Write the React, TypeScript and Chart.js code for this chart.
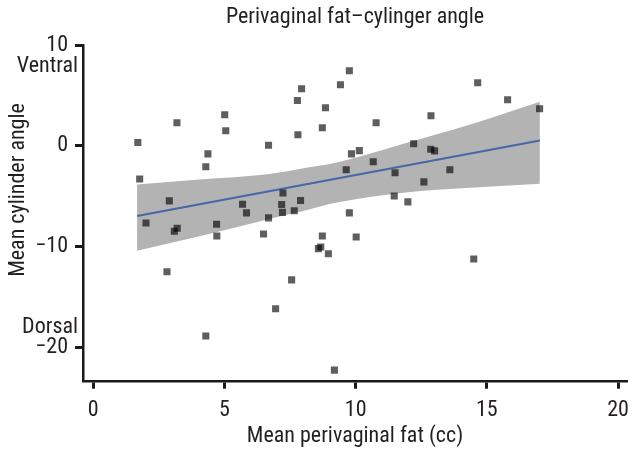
import React, { useEffect, useRef } from 'react';
import { Chart, registerables } from 'chart.js';

Chart.register(...registerables);

// ---- text ----
const chartTitle = 'Perivaginal fat–cylinger angle';
const xAxisTitle = 'Mean perivaginal fat (cc)';
const yAxisTitle = 'Mean cylinder angle';
const yTopNote = 'Ventral';
const yBottomNote = 'Dorsal';

// ---- ticks ----
const xTicks = [0, 5, 10, 15, 20];
const yTicks = [-20, -10, 0, 10];

// ---- scatter data ----
const fatCc = [1.70, 1.77, 2.01, 3.19, 2.90, 2.81, 3.09, 3.20, 4.29, 4.37, 4.29, 4.70, 4.71, 5.01, 5.05, 5.69, 5.84, 6.49, 6.68, 6.68, 6.95, 7.23, 7.18, 7.21, 7.56, 7.66, 7.78, 7.80, 7.90, 7.94, 8.58, 8.67, 8.73, 8.96, 9.19, 9.76, 9.42, 8.85, 8.73, 10.78, 14.65, 15.79, 17.01, 12.87, 12.21, 12.86, 13.01, 10.14, 9.84, 10.67, 9.64, 11.50, 13.59, 12.60, 11.47, 11.99, 9.76, 10.02, 14.50];
const cylAngle = [0.33, -3.30, -7.65, 2.28, -5.46, -12.5, -8.48, -8.18, -2.08, -0.80, -18.87, -7.78, -8.94, 3.08, 1.49, -5.80, -6.65, -8.74, 0.05, -7.15, -16.16, -4.68, -5.82, -6.60, -13.30, -6.45, 4.50, 1.09, -5.43, 5.66, -10.20, -10.03, -8.94, -10.70, -22.25, 7.45, 6.06, 3.77, 1.79, 2.28, 6.26, 4.57, 3.67, 2.98, 0.20, -0.34, -0.50, -0.48, -0.80, -1.59, -2.38, -2.68, -2.38, -3.58, -4.98, -5.56, -6.65, -9.04, -11.22];

// ---- regression line ----
const fitX = [1.67, 17.02];
const fitY = [-6.97, 0.53];

// ---- confidence band ----
const bandX = [1.67, 4.05, 6.71, 7.97, 9.24, 11.83, 14.37, 17.02];
const bandUpper = [-3.84, -3.35, -2.80, -2.25, -1.69, 0.20, 2.12, 4.37];
const bandLower = [-10.40, -8.98, -7.25, -6.49, -5.66, -4.65, -4.17, -3.77];

const FONT = "'Liberation Sans Narrow', 'Arial Narrow', 'Roboto Condensed', sans-serif";
const TEXT = '#231f20';
const AXIS = '#1a1a1a';
const FS = 22;

const notesPlugin = {
  id: 'notes',
  afterDraw(chart: any) {
    const { ctx, chartArea, scales } = chart;
    ctx.save();
    ctx.fillStyle = TEXT;
    ctx.font = `${FS}px ${FONT}`;
    ctx.textBaseline = 'middle';
    ctx.textAlign = 'center';
    ctx.fillText(chartTitle, (chartArea.left + chartArea.right) / 2, 17);
    ctx.textAlign = 'right';
    ctx.fillText(yTopNote, chartArea.left - 5, scales.y.getPixelForValue(yTicks[yTicks.length - 1]) + 21);
    ctx.fillText(yBottomNote, chartArea.left - 5, scales.y.getPixelForValue(yTicks[0]) - 20);
    ctx.translate(18, 190);
    ctx.rotate(-Math.PI / 2);
    ctx.textAlign = 'center';
    ctx.fillText(yAxisTitle, 0, 0);
    ctx.restore();
  },
};

export default function App() {
  const ref = useRef<HTMLCanvasElement | null>(null);
  useEffect(() => {
    if (!ref.current) return;
    const chart = new Chart(ref.current, {
      type: 'scatter',
      data: {
        datasets: [
          {
            type: 'scatter',
            data: fatCc.map((x, i) => ({ x, y: cylAngle[i] })),
            pointStyle: 'rect',
            pointRadius: 5,
            pointBorderWidth: 0,
            backgroundColor: 'rgba(0,0,0,0.63)',
            borderColor: 'rgba(0,0,0,0)',
            order: 0,
          } as any,
          {
            type: 'line',
            data: fitX.map((x, i) => ({ x, y: fitY[i] })),
            borderColor: '#4767a8',
            borderWidth: 2,
            pointRadius: 0,
            fill: false,
            order: 1,
          } as any,
          {
            type: 'line',
            data: bandX.map((x, i) => ({ x, y: bandUpper[i] })),
            borderWidth: 0,
            borderColor: 'rgba(0,0,0,0)',
            backgroundColor: '#b3b3b3',
            pointRadius: 0,
            cubicInterpolationMode: 'monotone',
            fill: '+1',
            order: 2,
          } as any,
          {
            type: 'line',
            data: bandX.map((x, i) => ({ x, y: bandLower[i] })),
            borderWidth: 0,
            borderColor: 'rgba(0,0,0,0)',
            pointRadius: 0,
            cubicInterpolationMode: 'monotone',
            fill: false,
            order: 3,
          } as any,
        ],
      },
      options: {
        animation: false,
        responsive: false,
        maintainAspectRatio: false,
        layout: { padding: { top: 45, right: 0, left: 0, bottom: 0 } },
        plugins: {
          legend: { display: false },
          tooltip: { enabled: false },
          title: { display: false },
        },
        scales: {
          x: {
            type: 'linear',
            min: -0.39,
            max: 20.34,
            afterBuildTicks: (s: any) => { s.ticks = xTicks.map((v) => ({ value: v })); },
            afterFit: (s: any) => { s.height = 74.3; s.paddingLeft = 0; s.paddingRight = 0; },
            border: { display: true, color: AXIS, width: 2.5 },
            grid: { display: true, drawOnChartArea: false, drawTicks: true, tickLength: 7, tickWidth: 3, tickColor: AXIS, color: AXIS },
            ticks: { font: { family: FONT, size: FS }, color: TEXT, padding: 9, maxRotation: 0, autoSkip: false },
            title: { display: true, text: xAxisTitle, font: { family: FONT, size: FS }, color: TEXT, padding: { top: 0, bottom: 6 } },
          },
          y: {
            type: 'linear',
            min: -23.4,
            max: 10,
            afterBuildTicks: (s: any) => { s.ticks = yTicks.map((v) => ({ value: v })); },
            afterFit: (s: any) => { s.width = 83; s.paddingTop = 0; s.paddingBottom = 0; },
            border: { display: true, color: AXIS, width: 2.5 },
            grid: { display: true, drawOnChartArea: false, drawTicks: true, tickLength: 8, tickWidth: 3, tickColor: AXIS, color: AXIS },
            ticks: {
              font: { family: FONT, size: FS },
              color: TEXT,
              padding: 7,
              callback: (v: any) => (Number(v) < 0 ? '\u2212' + Math.abs(Number(v)) : String(v)),
            },
          },
        },
      },
      plugins: [notesPlugin],
    } as any);
    return () => chart.destroy();
  }, []);
  return (
    <div style={{ position: 'absolute', left: 0, top: 0, width: 632, height: 456, background: '#fff' }}>
      <canvas ref={ref} width={632} height={456} style={{ width: 632, height: 456, display: 'block' }} />
    </div>
  );
}
